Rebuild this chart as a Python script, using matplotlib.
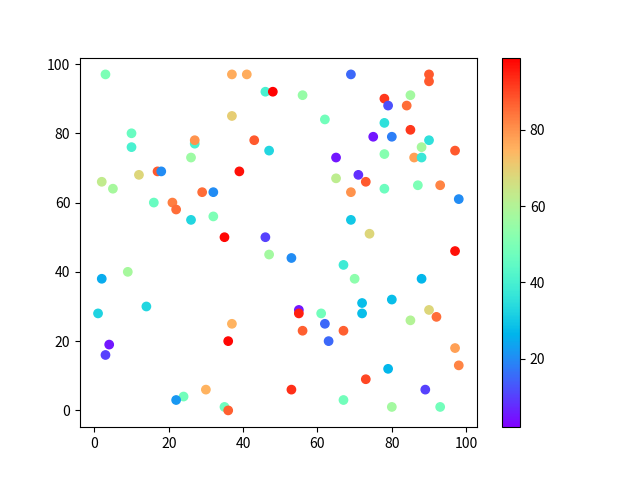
import matplotlib
matplotlib.use("Agg")
import matplotlib.pyplot as plt
import numpy as np

plt.rcParams['font.family'] = ['Noto Sans CJK SC', 'DejaVu Sans']

# points: x, y and colour value
x = [3, 37, 41, 46, 48, 37, 10, 10, 27, 27, 43, 47, 26, 17, 18, 12, 39, 2, 5, 29,
     32, 16, 21, 22, 26, 32, 35, 46,
     69, 90, 90, 56, 78, 79, 85, 84, 62, 78, 85, 75, 80, 90, 88, 97, 78, 86, 88, 65,
     65, 71, 73, 69, 78, 87, 93, 98, 69, 74,
     47, 9, 2, 14, 1, 37, 36, 4, 3, 30, 24, 22, 35, 36,
     53, 97, 67, 70, 88, 72, 80, 72, 55, 55, 61, 90, 85, 92, 62, 56, 67, 63, 97, 98,
     79, 73, 53, 89, 67, 80, 93]
y = [97, 97, 97, 92, 92, 85, 80, 76, 77, 78, 78, 75, 73, 69, 69, 68, 69, 66, 64, 63,
     63, 60, 60, 58, 55, 56, 50, 50,
     97, 97, 95, 91, 90, 88, 91, 88, 84, 83, 81, 79, 79, 78, 76, 75, 74, 73, 73, 73,
     67, 68, 66, 63, 64, 65, 65, 61, 55, 51,
     45, 40, 38, 30, 28, 25, 20, 19, 16, 6, 4, 3, 1, 0,
     44, 46, 42, 38, 38, 31, 32, 28, 29, 28, 28, 29, 26, 27, 25, 23, 23, 20, 18, 13,
     12, 9, 6, 6, 3, 1, 1]
c = [50, 76, 76, 40, 99, 70, 46, 40, 40, 80, 88, 33, 56, 88, 20, 68, 97, 63, 58, 85,
     20, 46, 83, 85, 33, 50, 98, 10,
     15, 88, 88, 55, 92, 12, 57, 85, 48, 35, 92, 5, 18, 35, 58, 88, 52, 78, 37, 5,
     62, 8, 88, 80, 47, 50, 82, 20, 30, 68,
     57, 58, 25, 33, 32, 75, 98, 5, 10, 75, 48, 22, 47, 87,
     20, 97, 38, 53, 27, 28, 28, 28, 5, 95, 48, 68, 60, 85, 15, 87, 87, 15, 78, 82,
     27, 90, 93, 10, 48, 57, 48]

plt.figure(figsize=(6.4, 4.8), dpi=100)
plt.scatter(x, y, c=c, cmap='rainbow', vmin=2, vmax=99)
plt.colorbar()
plt.savefig("out.png")
